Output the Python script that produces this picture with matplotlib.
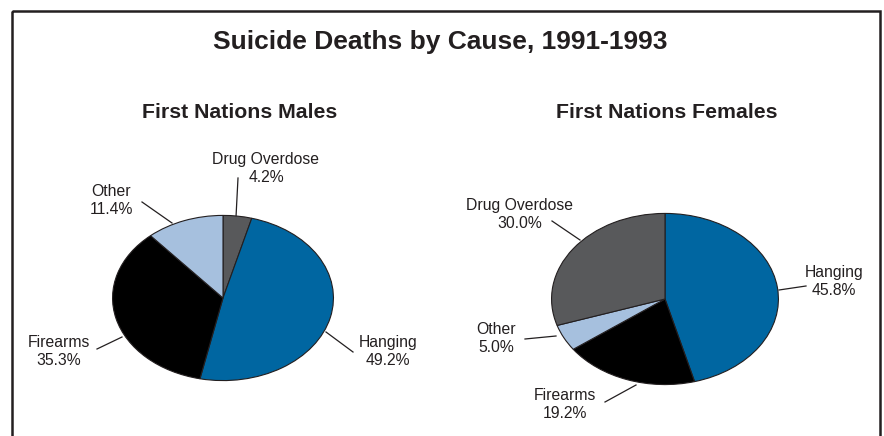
import matplotlib.pyplot as plt
from matplotlib.patches import Rectangle

plt.rcParams['font.family'] = ['Liberation Sans', 'DejaVu Sans']

# data ---------------------------------------------------------
title = "Suicide Deaths by Cause, 1991-1993"
male_title = "First Nations Males"
female_title = "First Nations Females"

male_causes = ["Drug Overdose", "Hanging", "Firearms", "Other"]
male_pct = [4.2, 49.2, 35.3, 11.4]
female_causes = ["Hanging", "Firearms", "Other", "Drug Overdose"]
female_pct = [45.8, 19.2, 5.0, 30.0]

colours = {"Drug Overdose": "#58595b", "Hanging": "#0066a1",
           "Firearms": "#000000", "Other": "#a6c0de"}

# layout (pixels, 884x436 canvas) -------------------------------
W, H = 884, 436
male_box = (112, 215, 334, 381)      # ellipse bbox x0,y0,x1,y1
female_box = (551, 213, 779, 385)
# label centre, leader start (on pie), leader end
male_labels = {
    "Drug Overdose": ((266, 168), (236, 217), (238, 178)),
    "Hanging": ((388, 351), (326, 332), (353, 352)),
    "Firearms": ((59, 351), (122, 337), (97, 349)),
    "Other": ((111, 200), (172, 223), (142, 202)),
}
female_labels = {
    "Drug Overdose": ((520, 214), (580, 240), (552, 221)),
    "Hanging": ((834, 281), (779, 290), (806, 286)),
    "Firearms": ((565, 404), (636, 385), (605, 402)),
    "Other": ((496, 338), (556, 336), (525, 339)),
}

fig = plt.figure(figsize=(W / 100, H / 100), dpi=100)
fig.patch.set_facecolor("white")

# overlay axis in pixel coords for text and frame
ov = fig.add_axes([0, 0, 1, 1])
ov.set_xlim(0, W)
ov.set_ylim(H, 0)
ov.axis("off")
ov.add_patch(Rectangle((12, 11), 868, 460, fill=False, lw=1.8,
                       edgecolor="#231f20", clip_on=True))

ov.text(440, 49.5, title, ha="center", va="baseline",
        fontsize=19, fontweight="bold", color="#231f20")
ov.text(240, 117.5, male_title, ha="center", va="baseline",
        fontsize=15.3, fontweight="bold", color="#231f20")
ov.text(667, 117.5, female_title, ha="center", va="baseline",
        fontsize=15.3, fontweight="bold", color="#231f20")


def draw_pie(box, causes, pct, labels):
    x0, y0, x1, y1 = box
    ax = fig.add_axes([x0 / W, 1 - y1 / H, (x1 - x0) / W, (y1 - y0) / H])
    ax.pie(pct, colors=[colours[c] for c in causes], startangle=90,
           counterclock=False, radius=1,
           wedgeprops=dict(edgecolor="#231f20", linewidth=0.8))
    ax.set_aspect("auto")
    ax.set_xlim(-1.005, 1.005)
    ax.set_ylim(-1.005, 1.005)
    ax.axis("off")
    for c, p in zip(causes, pct):
        (tx, ty), start, end = labels[c]
        ov.text(tx, ty, f"{c}\n{p:.1f}%", ha="center", va="center",
                fontsize=11.3, color="#231f20", linespacing=1.25)
        ov.plot([start[0], end[0]], [start[1], end[1]],
                color="#231f20", lw=0.9)


draw_pie(male_box, male_causes, male_pct, male_labels)
draw_pie(female_box, female_causes, female_pct, female_labels)

fig.savefig("out.png", dpi=100)
